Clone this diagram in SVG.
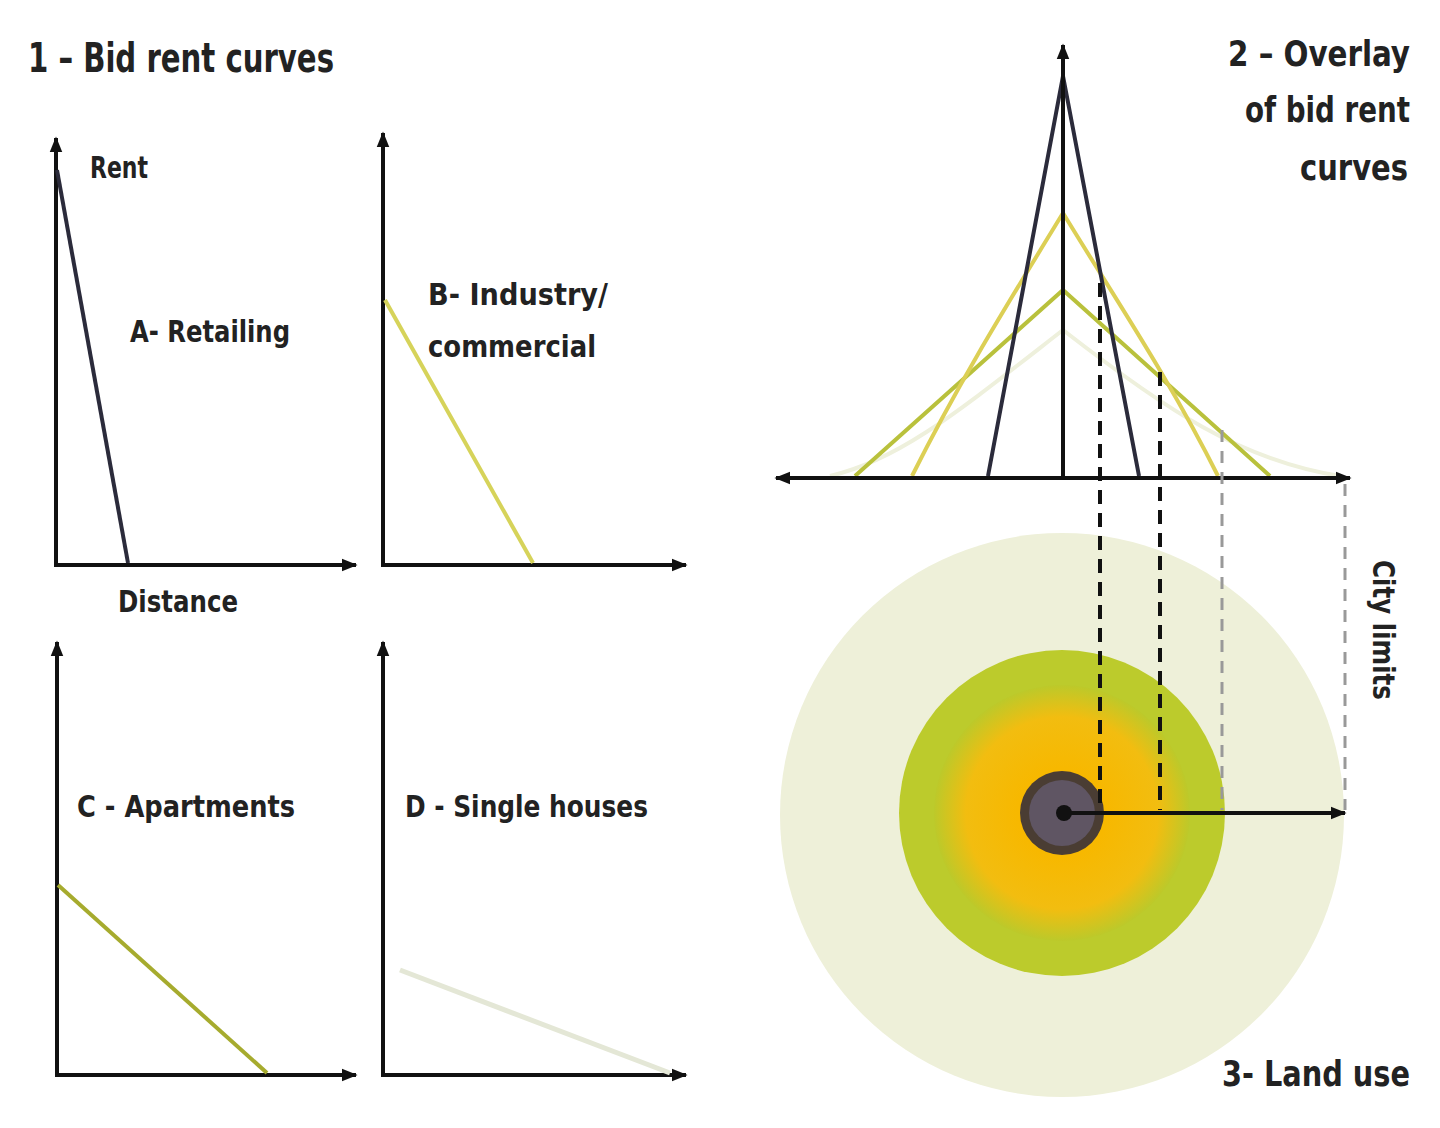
<svg xmlns="http://www.w3.org/2000/svg" width="1440" height="1128" viewBox="0 0 1440 1128">
<defs>
<marker id="ah" viewBox="0 0 10 10" refX="9" refY="5" markerWidth="4" markerHeight="4" orient="auto-start-reverse"><path d="M0,1 L10,5 L0,9 Z" fill="#111"/></marker>
<radialGradient id="og" cx="0.5" cy="0.5" r="0.5">
<stop offset="0.35" stop-color="#f7b800"/>
<stop offset="0.75" stop-color="#f2bd10"/>
<stop offset="1" stop-color="#bcc92a"/>
</radialGradient>
</defs>
<style>
.ax{stroke:#111;stroke-width:4;fill:none}
.t{font-family:"DejaVu Sans Condensed","Liberation Sans",sans-serif;font-weight:bold;fill:#222}
.dash{stroke:#111;stroke-width:4;stroke-dasharray:14 9;fill:none}
.dashl{stroke:#999;stroke-width:3;stroke-dasharray:12 9;fill:none}
</style>
<rect width="1440" height="1128" fill="#fff"/>
<text class="t" x="28" y="72" font-size="40" textLength="306" lengthAdjust="spacingAndGlyphs">1 – Bid rent curves</text>

<g id="panelA">
<line class="ax" x1="56" y1="565" x2="56" y2="138" marker-end="url(#ah)"/>
<line class="ax" x1="54" y1="565" x2="356" y2="565" marker-end="url(#ah)"/>
<line x1="57" y1="170" x2="128" y2="563" stroke="#2b2b3b" stroke-width="4"/>
<text class="t" x="90" y="178" font-size="30" textLength="58" lengthAdjust="spacingAndGlyphs">Rent</text>
<text class="t" x="130" y="342" font-size="30" textLength="160" lengthAdjust="spacingAndGlyphs">A- Retailing</text>
<text class="t" x="118" y="612" font-size="30" textLength="120" lengthAdjust="spacingAndGlyphs" fill="#333">Distance</text>
</g>

<g id="panelB">
<line class="ax" x1="383" y1="565" x2="383" y2="133" marker-end="url(#ah)"/>
<line class="ax" x1="381" y1="565" x2="686" y2="565" marker-end="url(#ah)"/>
<line x1="385" y1="300" x2="533" y2="563" stroke="#d6d35a" stroke-width="4"/>
<text class="t" x="428" y="305" font-size="30" textLength="180" lengthAdjust="spacingAndGlyphs">B- Industry/</text>
<text class="t" x="428" y="357" font-size="30" textLength="168" lengthAdjust="spacingAndGlyphs">commercial</text>
</g>

<g id="panelC">
<line class="ax" x1="57" y1="1075" x2="57" y2="642" marker-end="url(#ah)"/>
<line class="ax" x1="55" y1="1075" x2="356" y2="1075" marker-end="url(#ah)"/>
<line x1="58" y1="885" x2="267" y2="1073" stroke="#a6ab2e" stroke-width="4"/>
<text class="t" x="77" y="817" font-size="30" textLength="218" lengthAdjust="spacingAndGlyphs">C - Apartments</text>
</g>

<g id="panelD">
<line class="ax" x1="383" y1="1075" x2="383" y2="642" marker-end="url(#ah)"/>
<line class="ax" x1="381" y1="1075" x2="686" y2="1075" marker-end="url(#ah)"/>
<line x1="400" y1="970" x2="670" y2="1073" stroke="#e4e7d6" stroke-width="5"/>
<text class="t" x="405" y="817" font-size="30" textLength="243" lengthAdjust="spacingAndGlyphs">D - Single houses</text>
</g>

<g id="landuse">
<circle cx="1062" cy="815" r="282" fill="#eef0d9"/>
<circle cx="1062" cy="813" r="163" fill="#bccb2c"/>
<circle cx="1062" cy="813" r="128" fill="url(#og)"/>
<circle cx="1062" cy="813" r="42" fill="#4a3d33"/>
<circle cx="1062" cy="813" r="33" fill="#5f5563"/>
<circle cx="1064" cy="813" r="8" fill="#111"/>
</g>

<g id="overlay">
<path d="M830,476 C900,460 960,410 1063,330 C1166,410 1240,460 1340,476" fill="none" stroke="#eef0dc" stroke-width="4"/>
<path d="M855,476 L1063,290 L1270,476" fill="none" stroke="#b9c13c" stroke-width="4"/>
<path d="M912,476 C960,380 1010,300 1063,213 C1116,300 1170,380 1218,476" fill="none" stroke="#dccf55" stroke-width="4"/>
<path d="M988,476 L1063,76 L1139,476" fill="none" stroke="#2b2b3b" stroke-width="4"/>
<line class="ax" x1="1063" y1="478" x2="1063" y2="45" marker-end="url(#ah)"/>
<line class="ax" x1="776" y1="478" x2="1350" y2="478" marker-start="url(#ah)" marker-end="url(#ah)"/>
</g>

<g id="connectors">
<line class="dash" x1="1100" y1="283" x2="1100" y2="810"/>
<line class="dash" x1="1160" y1="372" x2="1160" y2="810"/>
<line class="dashl" x1="1222" y1="430" x2="1222" y2="810"/>
<line class="dashl" x1="1345" y1="484" x2="1345" y2="810"/>
<line class="ax" x1="1066" y1="813" x2="1345" y2="813" marker-end="url(#ah)"/>
</g>

<text class="t" x="1228" y="66" font-size="35" textLength="182" lengthAdjust="spacingAndGlyphs">2 – Overlay</text>
<text class="t" x="1245" y="122" font-size="35" textLength="165" lengthAdjust="spacingAndGlyphs">of bid rent</text>
<text class="t" x="1300" y="180" font-size="35" textLength="108" lengthAdjust="spacingAndGlyphs">curves</text>
<text class="t" x="1222" y="1086" font-size="35" textLength="188" lengthAdjust="spacingAndGlyphs">3- Land use</text>
<text class="t" transform="translate(1373,560) rotate(90)" x="0" y="0" font-size="30" textLength="140" lengthAdjust="spacingAndGlyphs" fill="#333">City limits</text>
</svg>
